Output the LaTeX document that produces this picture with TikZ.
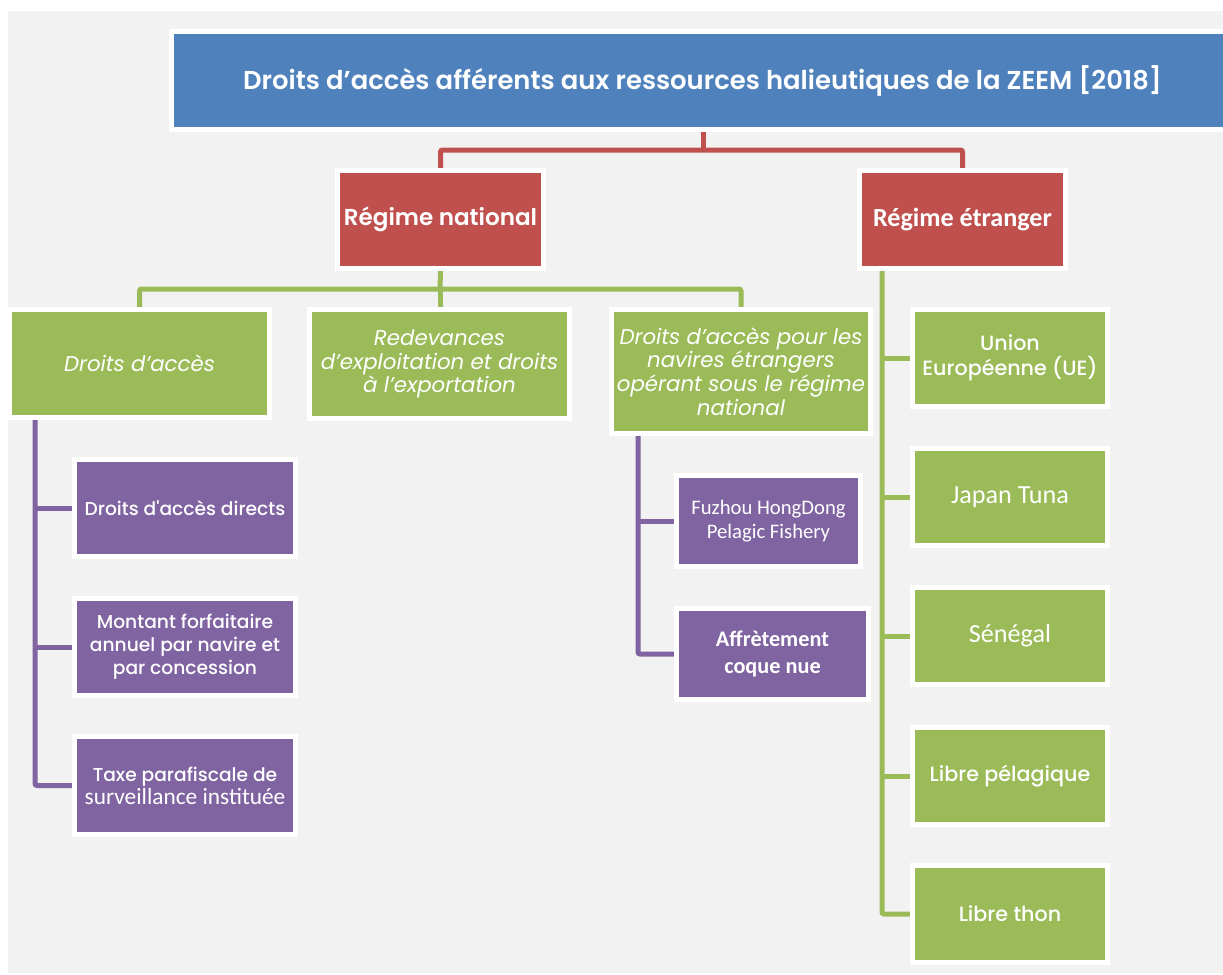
\documentclass[tikz,border=0pt]{standalone}
\usepackage{fontspec}
\setmainfont{Poppins}
\newfontfamily\popsemi{Poppins SemiBold}
\newfontfamily\popmed{Poppins Medium}
\newfontfamily\carl{Carlito}
\usetikzlibrary{backgrounds}
\definecolor{cblue}{HTML}{4F81BD}
\definecolor{cred}{HTML}{C0504D}
\definecolor{cgreen}{HTML}{9BBB59}
\definecolor{cpurple}{HTML}{8064A2}
\definecolor{cbg}{HTML}{F2F2F2}
\tikzset{
  box/.style 2 args={draw=white, line width=3.75pt, text=white, align=center,
    inner sep=0pt, minimum width=#1*0.75pt+3.75pt, minimum height=#2*0.75pt+3.75pt},
  bluebox/.style={box={#1}{93}, fill=cblue},
  redbox/.style={box={201}{93}, fill=cred},
  greenbox/.style 2 args={box={#1}{#2}, fill=cgreen},
  purplebox/.style 2 args={box={#1}{#2}, fill=cpurple},
  conn/.style={line width=3.75pt, rounded corners=1.5pt},
  redline/.style={conn, draw=cred},
  greenline/.style={conn, draw=cgreen},
  purpleline/.style={conn, draw=cpurple},
  ftitle/.style={font=\popsemi\fontsize{19.4}{23}\selectfont},
  fbold/.style={font=\popsemi\fontsize{17.3}{21}\selectfont},
  fcarlb/.style={font=\carl\fontsize{19.6}{23}\selectfont\bfseries},
  fital/.style={font=\fontsize{16}{17.8}\selectfont\itshape},
  fmed/.style={font=\popmed\fontsize{14}{17.3}\selectfont},
  fmedl/.style={font=\popmed\fontsize{15.5}{19}\selectfont},
  fcarl/.style={font=\carl\fontsize{19.6}{23}\selectfont},
  fcarls/.style={font=\carl\fontsize{15.5}{18.5}\selectfont},
}
\begin{document}
\begin{tikzpicture}[x=0.75pt,y=-0.75pt]
\useasboundingbox (0,0) rectangle (1223,974);
% nodes
\node[bluebox=1058, ftitle] (title) at (702.5,80.5) {Droits d’accès afférents aux ressources halieutiques de la ZEEM [2018]};
\node[redbox, fbold] (natl) at (440.5,219.5) {Régime national};
\node[redbox, fcarlb] (etr) at (962.5,219.5) {Régime étranger};
\node[greenbox={255}{103}, fital] (dacc) at (139.5,363.5) {Droits d’accès};
\node[greenbox={255}{104}, fital] (redev) at (439.5,364) {Redevances\\d’exploitation et droits\\à l'exportation};
\node[greenbox={254}{119}, fital] (dnav) at (741,371.5) {Droits d’accès pour les\\navires étrangers\\opérant sous le régime\\national};
\node[purplebox={216}{92}, fmed] (directs) at (185,508) {Droits d'accès directs};
\node[purplebox={216}{92}, fmed] (montant) at (185,647) {Montant forfaitaire\\annuel par navire et\\par concession};
\node[purplebox={216}{93}, fmed] (taxe) at (185,785.5) {Taxe parafiscale de\\{\carl\fontsize{17.5}{17.3}\selectfont surveillance instituée}};
\node[purplebox={179}{86}, fcarls] (fuzhou) at (768.5,521) {Fuzhou HongDong\\Pelagic Fishery};
\node[purplebox={187}{86}, font=\carl\fontsize{16.7}{20}\selectfont\bfseries] (affr) at (772.5,654) {Affrètement\\coque nue};
\node[greenbox={190}{92}, fmedl] (ue) at (1010,358) {Union\\Européenne (UE)};
\node[greenbox={190}{92}, fcarl] (japan) at (1010,497) {Japan Tuna};
\node[greenbox={190}{92}, fcarl] (sene) at (1010,636) {Sénégal};
\node[greenbox={190}{92}, fmedl] (libpel) at (1010,776) {Libre pélagique};
\node[greenbox={190}{92}, fmedl] (libthon) at (1010,914) {Libre thon};
% junction coordinates
\coordinate (rj) at (703,150);
\coordinate (gj) at (440,289);
\coordinate (pl) at (35,0);
\coordinate (pr) at (638,0);
\coordinate (gr) at (882,0);
\begin{pgfonlayer}{background}
\fill[white] (0,0) rectangle (1223,974);
\fill[cbg] (8,11) rectangle (1223,973);
% red
\draw[redline] (title.south -| rj) -- (rj);
\draw[redline] (natl.north) |- (rj) -| (etr.north);
% green national
\draw[greenline] (natl.south) -- (gj);
\draw[greenline] (dacc.north) |- (gj) -| (dnav.north);
\draw[greenline] (gj) -- (gj |- redev.north);
% purple left
\draw[purpleline] (dacc.south -| pl) |- (taxe.west);
\draw[purpleline] (pl |- directs.west) -- (directs.west);
\draw[purpleline] (pl |- montant.west) -- (montant.west);
% purple right
\draw[purpleline] (dnav.south -| pr) |- (affr.west);
\draw[purpleline] (pr |- fuzhou.west) -- (fuzhou.west);
% green foreign
\draw[greenline] (etr.south -| gr) |- (libthon.west);
\draw[greenline] (gr |- ue.west) -- (ue.west);
\draw[greenline] (gr |- japan.west) -- (japan.west);
\draw[greenline] (gr |- sene.west) -- (sene.west);
\draw[greenline] (gr |- libpel.west) -- (libpel.west);
\end{pgfonlayer}
\end{tikzpicture}
\end{document}
